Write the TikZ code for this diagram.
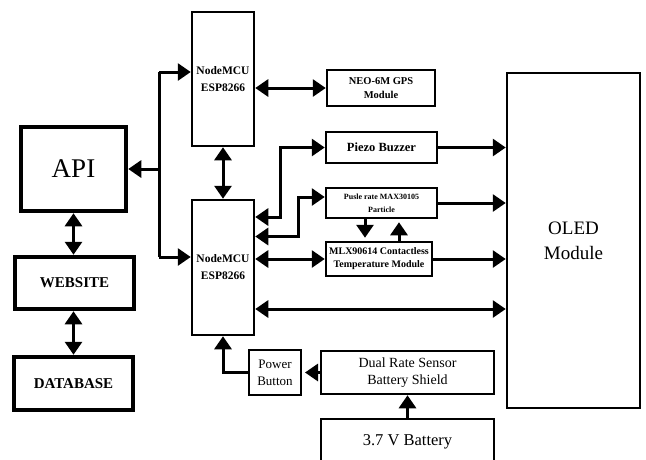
\documentclass[tikz,border=0pt]{standalone}
\usepackage{fontspec}
\setmainfont{Liberation Serif}
\usetikzlibrary{arrows.meta,calc}

\tikzset{
  blk/.style={draw, line width=2.5pt, align=center, inner sep=1pt},
  thickblk/.style={blk, line width=4.5pt},
  link/.style={line width=3pt},
  one/.style={link, -{Triangle[length=13pt,width=17pt]}},
  both/.style={link, {Triangle[length=13pt,width=17pt]}-{Triangle[length=13pt,width=17pt]}},
}

\begin{document}
\begin{tikzpicture}[x=1pt,y=-1pt]
\path[use as bounding box, clip] (0,0) rectangle (646,459);
% server side
\node[thickblk, minimum width=105pt, minimum height=84pt, font=\fontsize{27}{30}\selectfont] (api) at (73.5,169) {API};
\node[thickblk, minimum width=119pt, minimum height=52pt, font=\bfseries\fontsize{15}{18}\selectfont] (web) at (74.5,283) {WEBSITE};
\node[thickblk, minimum width=119pt, minimum height=53pt, font=\bfseries\fontsize{15}{18}\selectfont] (db) at (73.5,383.5) {DATABASE};
% controllers
\node[blk, minimum width=62pt, minimum height=134pt, font=\bfseries\fontsize{11.5}{17}\selectfont] (mcuTop) at (223,79) {NodeMCU\\ESP8266};
\node[blk, minimum width=62pt, minimum height=135pt, font=\bfseries\fontsize{11.5}{17}\selectfont] (mcuBot) at (223,267.5) {NodeMCU\\ESP8266};
% sensors and outputs
\node[blk, minimum width=108pt, minimum height=36pt, font=\bfseries\fontsize{10.5}{14}\selectfont] (gps) at (381,88) {NEO-6M GPS\\Module};
\node[blk, minimum width=111pt, minimum height=31pt, font=\bfseries\fontsize{12.5}{15}\selectfont] (piezo) at (381.5,147.5) {Piezo Buzzer};
\node[blk, minimum width=111pt, minimum height=30pt, font=\bfseries\fontsize{8}{13}\selectfont] (pulse) at (381.5,203) {Pusle rate MAX30105\\Particle};
\node[blk, minimum width=106pt, minimum height=34pt, font=\bfseries\fontsize{10}{13}\selectfont] (mlx) at (379,259) {MLX90614 Contactless\\Temperature Module};
\node[blk, minimum width=133pt, minimum height=335pt, font=\fontsize{19}{25}\selectfont] (oled) at (573.5,240.5) {OLED\\Module};
% power
\node[blk, line width=2pt, minimum width=52pt, minimum height=45pt, font=\fontsize{13}{17}\selectfont] (power) at (275,372.5) {Power\\Button};
\node[blk, minimum width=173pt, minimum height=43pt, font=\fontsize{14}{17}\selectfont] (shield) at (407.5,372.5) {Dual Rate Sensor\\Battery Shield};
\node[blk, minimum width=173pt, minimum height=46pt, font=\fontsize{16.5}{20}\selectfont] (batt) at (407.5,442) {3.7 V Battery};

% API bus
\coordinate (busTop) at (159,72);
\coordinate (busBot) at (159,257);
\draw[link] (busTop) -- (busBot);
\draw[one] (busTop) -- (busTop -| mcuTop.west);
\draw[one] (busBot) -- (busBot -| mcuBot.west);
\draw[one] (busTop |- api.east) -- (api.east);
\draw[both] (api.south) -- (api.south |- web.north);
\draw[both] (web.south -| api.south) -- (api.south |- db.north);

% controller links
\draw[both] (mcuTop.south) -- (mcuBot.north);
\draw[both] (mcuTop.east |- gps.west) -- (gps.west);
\draw[both] ([yshift=50.5pt]mcuBot.east) -- ++(25,0) |- (piezo.west);
\draw[both] ([yshift=31pt]mcuBot.east) -- ++(43,0) |- ([yshift=6pt]pulse.west);
\draw[both] (mcuBot.east |- mlx.west) -- (mlx.west);
\coordinate (lowLink) at ([yshift=-41.5pt]mcuBot.east);
\draw[both] (lowLink) -- (lowLink -| oled.west);

% to display
\draw[one] (piezo.east) -- (piezo.east -| oled.west);
\draw[one] (pulse.east) -- (pulse.east -| oled.west);
\draw[one] (mlx.east) -- (mlx.east -| oled.west);

% pulse <-> temperature
\draw[one, shorten >=3pt] ($(pulse.south)+(-16.5,0)$) -- ($(mlx.north)+(-14,0)$);
\draw[one, shorten >=3pt] ($(mlx.north)+(20,0)$) -- ($(pulse.south)+(17.5,0)$);

% power chain
\draw[one, shorten >=3pt] (shield.west) -- (power.east);
\draw[one] (power.west) -| (mcuBot.south);
\draw[one] (batt.north) -- (shield.south);
\end{tikzpicture}
\end{document}
